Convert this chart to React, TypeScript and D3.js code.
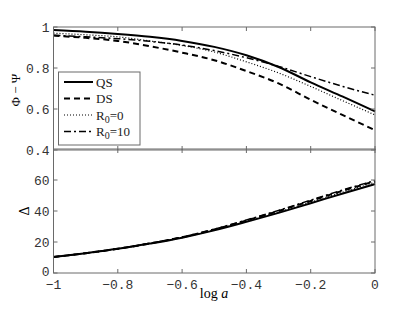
import { useEffect, useRef } from "react";
import * as d3 from "d3";

const logA = [-1, -0.9, -0.8, -0.7, -0.6, -0.5, -0.4, -0.3, -0.2, -0.1, 0];

// top panel: Phi - Psi
const phiQS = [0.985, 0.977, 0.966, 0.952, 0.932, 0.903, 0.862, 0.805, 0.73, 0.66, 0.588];
const phiDS = [0.958, 0.947, 0.932, 0.906, 0.875, 0.838, 0.785, 0.725, 0.645, 0.57, 0.497];
const phiR0 = [0.97, 0.962, 0.952, 0.932, 0.91, 0.878, 0.83, 0.776, 0.71, 0.64, 0.571];
const phiR10 = [0.96, 0.952, 0.943, 0.93, 0.912, 0.885, 0.85, 0.808, 0.758, 0.71, 0.667];

// bottom panel: Delta
const delQS = [10.3, 12.8, 15.6, 19, 22.8, 27.5, 33, 38.8, 45, 51.3, 57.4];
const delDS = [10.3, 12.8, 15.6, 19.1, 23.1, 28.1, 33.9, 40, 46.5, 53.1, 59.2];
const delR0 = [10.3, 12.8, 15.6, 19.1, 22.9, 27.8, 33.4, 39.4, 45.8, 52.2, 58.5];
const delR10 = [10.3, 12.8, 15.7, 19.2, 23.2, 28.3, 34.2, 40.4, 47, 53.6, 59.6];

const seriesNames = ["QS", "DS", "R0=0", "R0=10"];
const xTicks = [-1, -0.8, -0.6, -0.4, -0.2, 0];
const topTicks = [0.4, 0.6, 0.8, 1];
const bottomTicks = [0, 20, 40, 60];

const styles: Record<string, { dash: string; w: number }> = {
  QS: { dash: "", w: 2 },
  DS: { dash: "6,4", w: 2 },
  "R0=0": { dash: "1,2", w: 1.2 },
  "R0=10": { dash: "7,3,2,3", w: 1.5 },
};

export default function App() {
  const svgRef = useRef<SVGSVGElement>(null);

  useEffect(() => {
    if (!svgRef.current) return;
    const svg = d3.select(svgRef.current);
    svg.selectAll("*").remove();

    const left = 53.5, right = 375;
    const x = d3.scaleLinear().domain([-1, 0]).range([left, right]);
    const yTop = d3.scaleLinear().domain([0.4, 1]).range([150, 27]);
    const yBot = d3.scaleLinear().domain([0, 80]).range([273, 149]);
    const axisColor = "#6a6a6a";
    const tickFont = "'Liberation Mono', 'DejaVu Sans Mono', monospace";

    const panel = (
      y: d3.ScaleLinear<number, number>,
      yTicks: number[],
      fmt: (v: number) => string,
      data: number[][],
      showX: boolean
    ) => {
      const [y0, y1] = y.range();
      const g = svg.append("g");

      const line = d3.line<number>()
        .x((_d, i) => x(logA[i]))
        .y((d) => y(d))
        .curve(d3.curveMonotoneX);
      data.forEach((vals, i) => {
        const s = styles[seriesNames[i]];
        g.append("path")
          .attr("d", line(vals))
          .attr("fill", "none").attr("stroke", "#000")
          .attr("stroke-width", s.w)
          .attr("stroke-dasharray", s.dash);
      });

      g.append("rect")
        .attr("x", left).attr("y", y1)
        .attr("width", right - left).attr("height", y0 - y1)
        .attr("fill", "none").attr("stroke", axisColor).attr("stroke-width", 1);

      // inward ticks on all sides
      xTicks.forEach((t) => {
        g.append("line").attr("x1", x(t)).attr("x2", x(t)).attr("y1", y0).attr("y2", y0 - 4).attr("stroke", axisColor);
        g.append("line").attr("x1", x(t)).attr("x2", x(t)).attr("y1", y1).attr("y2", y1 + 4).attr("stroke", axisColor);
      });
      yTicks.forEach((t) => {
        g.append("line").attr("x1", left).attr("x2", left + 4).attr("y1", y(t)).attr("y2", y(t)).attr("stroke", axisColor);
        g.append("line").attr("x1", right).attr("x2", right - 4).attr("y1", y(t)).attr("y2", y(t)).attr("stroke", axisColor);
        g.append("text")
          .attr("x", left - 4).attr("y", y(t)).attr("dy", t === 0 && showX ? "0.2em" : "0.35em")
          .attr("text-anchor", "end")
          .style("font-family", tickFont).style("font-size", "13px").attr("fill", "#333")
          .text(fmt(t));
      });
      if (showX) {
        xTicks.forEach((t) => {
          g.append("text")
            .attr("x", x(t)).attr("y", y0 + 15.5)
            .attr("text-anchor", "middle")
            .style("font-family", tickFont).style("font-size", "13px").attr("fill", "#333")
            .text(t === 0 ? "0" : String(t).replace("-", "\u2212"));
        });
      }
    };

    panel(yTop, topTicks, (v) => (v === 1 ? "1" : v.toFixed(1)), [phiQS, phiDS, phiR0, phiR10], false);
    panel(yBot, bottomTicks, (v) => String(v), [delQS, delDS, delR0, delR10], true);

    // legend
    const lg = svg.append("g");
    lg.append("rect").attr("x", 58.5).attr("y", 72).attr("width", 81.5).attr("height", 73)
      .attr("fill", "#fff").attr("stroke", axisColor);
    seriesNames.forEach((name, i) => {
      const yy = 82 + i * 16.5;
      const s = styles[name];
      lg.append("line").attr("x1", 64).attr("x2", 93).attr("y1", yy).attr("y2", yy)
        .attr("stroke", "#000").attr("stroke-width", s.w).attr("stroke-dasharray", s.dash);
      const t = lg.append("text").attr("x", 96).attr("y", yy).attr("dy", "0.35em")
        .style("font-family", "'Liberation Serif', serif").style("font-size", "13px").attr("fill", "#222");
      if (name.startsWith("R0")) {
        t.append("tspan").text("R");
        t.append("tspan").attr("dy", 3).style("font-size", "10px").text("0");
        t.append("tspan").attr("dy", -3).text(name.slice(2));
      } else {
        t.text(name);
      }
    });

    // axis labels
    svg.append("text")
      .attr("transform", "translate(20,90) rotate(-90)")
      .attr("text-anchor", "middle")
      .style("font-family", "'Liberation Serif', serif").style("font-size", "13px")
      .text("\u03A6 \u2212 \u03A8");
    svg.append("text")
      .attr("transform", "translate(29,211) rotate(-90)")
      .attr("text-anchor", "middle")
      .style("font-family", "'Liberation Serif', serif").style("font-size", "14px")
      .text("\u0394");
    const xl = svg.append("text")
      .attr("x", 214).attr("y", 298)
      .attr("text-anchor", "middle")
      .style("font-family", "'Liberation Serif', serif").style("font-size", "14px");
    xl.append("tspan").text("log ");
    xl.append("tspan").style("font-style", "italic").text("a");
  }, []);

  return (
    <svg
      ref={svgRef}
      width={415}
      height={313}
      style={{ position: "absolute", left: 0, top: 0, background: "#fff" }}
    />
  );
}
